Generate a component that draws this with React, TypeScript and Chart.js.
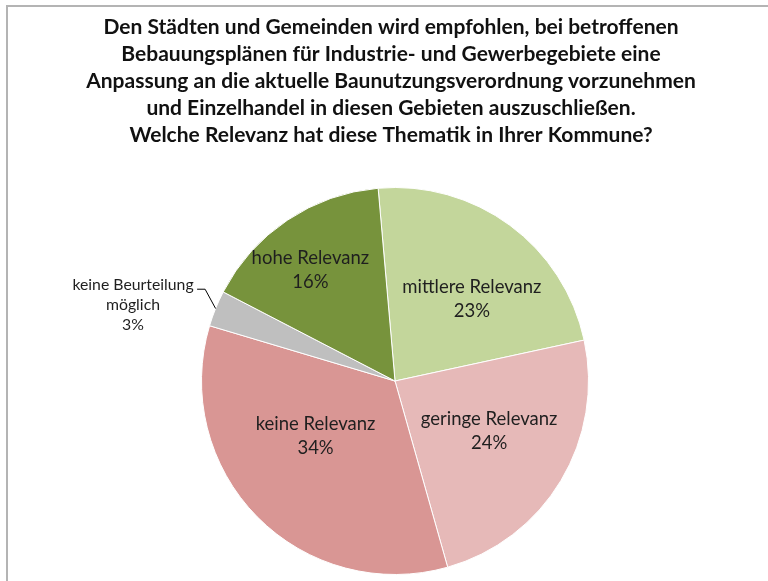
import React, { useEffect, useRef } from "react";
import { Chart, registerables } from "chart.js";

Chart.register(...registerables);

const titleLines = [
  "Den Städten und Gemeinden wird empfohlen, bei betroffenen",
  "Bebauungsplänen für Industrie- und Gewerbegebiete eine",
  "Anpassung an die aktuelle Baunutzungsverordnung vorzunehmen",
  "und Einzelhandel in diesen Gebieten auszuschließen.",
  "Welche Relevanz hat diese Thematik in Ihrer Kommune?",
];

const categories = [
  "mittlere Relevanz",
  "geringe Relevanz",
  "keine Relevanz",
  "keine Beurteilung möglich",
  "hohe Relevanz",
];
const values = [23, 24, 34, 3, 16];
const labelLines = [
  ["mittlere Relevanz"],
  ["geringe Relevanz"],
  ["keine Relevanz"],
  ["keine Beurteilung", "möglich"],
  ["hohe Relevanz"],
];

const sliceColors = ["#C3D69B", "#E6B9B8", "#D99694", "#BFBFBF", "#77933C"];
// label placement (style): radius fraction, angle offset in degrees, outside flag
const labelPlacement = [
  { frac: 0.58, off: 6.8, outside: false },
  { frac: 0.55, off: -3.2, outside: false },
  { frac: 0.5, off: 9.8, outside: false },
  { frac: 1.41, off: -5.8, outside: true },
  { frac: 0.72, off: -3.6, outside: false },
];

const FONT = "Lato, 'Open Sans', sans-serif";

const framePlugin = {
  id: "frame",
  beforeDraw(chart: any) {
    const ctx = chart.ctx;
    ctx.save();
    ctx.fillStyle = "#ffffff";
    ctx.fillRect(0, 0, chart.width, chart.height);
    ctx.strokeStyle = "#b4b4b4";
    ctx.lineWidth = 2;
    ctx.beginPath();
    ctx.moveTo(7, chart.height + 5);
    ctx.lineTo(7, 6);
    ctx.lineTo(chart.width + 5, 6);
    ctx.stroke();
    ctx.restore();
  },
};

const titlePlugin = {
  id: "customTitle",
  afterDraw(chart: any) {
    const ctx = chart.ctx;
    ctx.save();
    ctx.fillStyle = "#111111";
    ctx.font = `bold 21px ${FONT}`;
    ctx.textAlign = "center";
    ctx.textBaseline = "middle";
    titleLines.forEach((line, i) => {
      ctx.fillText(line, 391, 27 + i * 27);
    });
    ctx.restore();
  },
};

const labelPlugin = {
  id: "sliceLabels",
  afterDatasetsDraw(chart: any) {
    const ctx = chart.ctx;
    const meta = chart.getDatasetMeta(0);
    const data = chart.data.datasets[0].data as number[];
    const total = data.reduce((a, b) => a + b, 0);
    ctx.save();
    ctx.fillStyle = "#1f1f1f";
    ctx.textAlign = "center";
    ctx.textBaseline = "middle";
    meta.data.forEach((arc: any, i: number) => {
      const p = labelPlacement[i];
      const mid = (arc.startAngle + arc.endAngle) / 2;
      const ang = mid + (p.off * Math.PI) / 180;
      const r = arc.outerRadius * p.frac;
      const cx = arc.x + Math.cos(ang) * r;
      const cy = arc.y + Math.sin(ang) * r;
      const lines = [...labelLines[i], Math.round((data[i] / total) * 100) + "%"];
      const lh = p.outside ? 20 : 24;
      ctx.font = p.outside ? `15.8px ${FONT}` : `18.5px ${FONT}`;
      const startY = cy - ((lines.length - 1) * lh) / 2;
      lines.forEach((l, j) => ctx.fillText(l, cx, startY + j * lh));
      if (p.outside) {
        const ex = arc.x + Math.cos(mid) * arc.outerRadius;
        const ey = arc.y + Math.sin(mid) * arc.outerRadius;
        const eAng = mid + (3.8 * Math.PI) / 180;
        const bx = arc.x + Math.cos(eAng) * arc.outerRadius * 1.09;
        const by = arc.y + Math.sin(eAng) * arc.outerRadius * 1.09;
        ctx.strokeStyle = "#000000";
        ctx.lineWidth = 1;
        ctx.beginPath();
        ctx.moveTo(ex, ey);
        ctx.lineTo(bx, by);
        ctx.lineTo(bx - 8, by);
        ctx.stroke();
      }
    });
    ctx.restore();
  },
};

export default function App() {
  const canvasRef = useRef<HTMLCanvasElement | null>(null);

  useEffect(() => {
    if (!canvasRef.current) return;
    const chart = new Chart(canvasRef.current, {
      type: "pie",
      data: {
        labels: categories,
        datasets: [
          {
            data: values,
            backgroundColor: sliceColors,
            borderColor: "#ffffff",
            borderWidth: 1,
          },
        ],
      },
      options: {
        responsive: false,
        animation: false,
        rotation: -5,
        layout: { padding: { top: 187, bottom: 6, left: 201, right: 179 } },
        plugins: {
          legend: { display: false },
          title: { display: false },
          tooltip: { enabled: false },
        },
      },
      plugins: [framePlugin, titlePlugin, labelPlugin],
    });
    return () => chart.destroy();
  }, []);

  return (
    <div style={{ position: "absolute", left: 0, top: 0, width: 768, height: 581 }}>
      <canvas ref={canvasRef} width={768} height={581} />
    </div>
  );
}
